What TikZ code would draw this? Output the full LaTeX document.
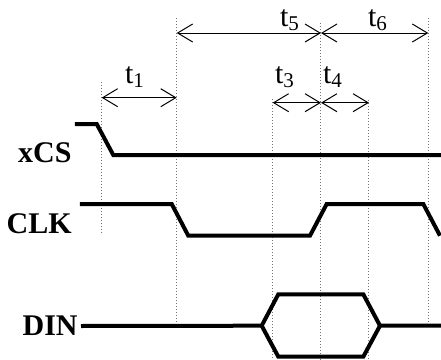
\documentclass[tikz,border=0pt]{standalone}
\usepackage{fontspec}
\setmainfont{Liberation Serif}
\usetikzlibrary{arrows.meta}

\begin{document}
\begin{tikzpicture}[x=0.5pt,y=-0.5pt,
	sig/.style={line width=2pt,line join=miter},
	guide/.style={densely dotted,line width=0.5pt,black!55},
	span/.style={{Straight Barb[length=7.5pt,width=9pt]}-{Straight Barb[length=7.5pt,width=9pt]},line width=0.5pt},
	signame/.style={font=\fontsize{15}{18}\selectfont\bfseries,anchor=east,inner sep=0pt},
	tlabel/.style={font=\fontsize{15}{18}\selectfont,inner sep=0pt}]

	\useasboundingbox (0,0) rectangle (441,360);
	\clip (0,0) rectangle (441,360);

	% guide lines
	\draw[guide] (101.7,82) -- (101.7,235);
	\draw[guide] (176.7,18) -- (176.7,323);
	\draw[guide] (272.7,99) -- (272.7,360);
	\draw[guide] (321,23) -- (321,360);
	\draw[guide] (369,100) -- (369,360);
	\draw[guide] (428.3,18) -- (428.3,323);

	% spans
	\coordinate (s1a) at (101.7,97.7);
	\coordinate (s1b) at (176.7,97.7);
	\coordinate (s5a) at (176.7,33);
	\coordinate (s5b) at (321,33);
	\coordinate (s6b) at (428.3,33);
	\coordinate (s3a) at (272.7,102.7);
	\coordinate (s3b) at (321,102.7);
	\coordinate (s4b) at (369,102.7);

	\draw[span] (s1a) -- (s1b);
	\draw[span] (s5a) -- (s5b);
	\draw[span] (s5b) -- (s6b);
	\draw[span] (s3a) -- (s3b);
	\draw[span] (s3b) -- (s4b);

	\node[tlabel] (t1) at (135,77) {t\textsubscript{1}};
	\node[tlabel] (t5) at (290,20) {t\textsubscript{5}};
	\node[tlabel] (t6) at (378,20) {t\textsubscript{6}};
	\node[tlabel] (t3) at (285,77) {t\textsubscript{3}};
	\node[tlabel] (t4) at (333,77) {t\textsubscript{4}};

	% signals
	\node[signame] (xcs) at (72,153) {xCS};
	\node[signame] (clk) at (72,224) {CLK};
	\node[signame] (din) at (78,326) {DIN};

	\draw[sig] (75,124) -- (96.7,124) -- (113.3,155) -- (441,155);
	\draw[sig] (80,204) -- (171.7,204) -- (188.3,235.7) -- (310,235.7)
		-- (326.7,204) -- (423.3,204) -- (440,235.7);
	\draw[sig] (din.east) ++(3,0) -- (261.7,325.7) -- (278.3,294.3) -- (363.3,294.3)
		-- (380,325.7) -- (441,325.7);
	\draw[sig] (261.7,325.7) -- (278.3,356.7) -- (363.3,356.7) -- (380,325.7);

\end{tikzpicture}
\end{document}
